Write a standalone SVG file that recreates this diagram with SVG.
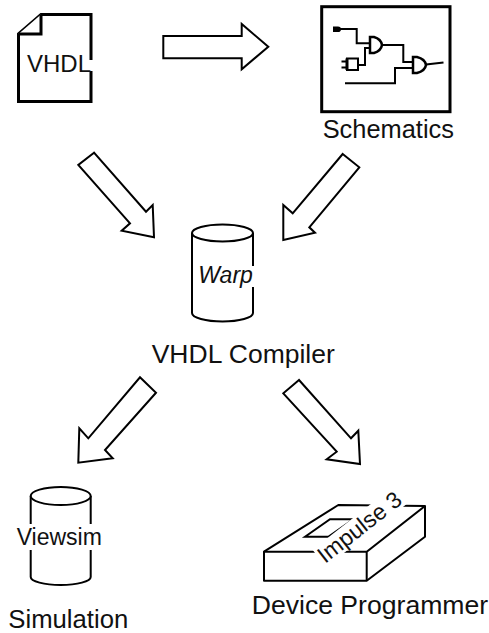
<svg xmlns="http://www.w3.org/2000/svg" width="489" height="633" viewBox="0 0 489 633">
  <style>
    .label { font-family: "Liberation Sans", Arial, sans-serif; fill: #111; }
    .inner { font-family: "Liberation Sans", Arial, sans-serif; fill: #111; }
    .thick { fill: #fff; stroke: #000; stroke-width: 3; stroke-linejoin: miter; }
    .shape { fill: #fff; stroke: #000; stroke-width: 2; stroke-linejoin: round; }
    .arrow { fill: #fff; stroke: #000; stroke-width: 2; stroke-linejoin: miter; }
    .wire { fill: none; stroke: #000; stroke-width: 2; stroke-linejoin: miter; }
    .bg { fill: #fff; stroke: none; }
  </style>

  <rect width="489" height="633" fill="#fff"/>

  <!-- VHDL source document -->
  <g id="vhdl-source">
    <path class="thick" d="M18.5,34 L41,14.5 L91,14.5 L91,101.5 L18.5,101.5 Z"/>
    <path class="thick" fill="none" d="M41,14.5 L41,34 L18.5,34"/>
    <rect class="bg" x="26" y="60" width="68" height="11"/>
    <text class="inner" x="27" y="71.5" font-size="24">VHDL</text>
  </g>

  <!-- Schematic entry -->
  <g id="schematics">
    <rect class="thick" x="321.7" y="6.7" width="128.3" height="105"/>
    <!-- input terminal -->
    <path d="M333,26.5 h5 a3,2.8 0 0 1 0,5.6 h-5 z" fill="#000"/>
    <path class="wire" d="M340,29 L356.7,29 L356.7,43.3 L370,43.3"/>
    <!-- input buffer box -->
    <rect x="347" y="58.5" width="11" height="11.5" fill="#fff" stroke="#000" stroke-width="2"/>
    <rect x="345.5" y="58.5" width="3" height="11.5" fill="#000"/>
    <path class="wire" d="M341.5,61.5 L346,61.5 M341.5,67.5 L346,67.5" stroke-width="2.5"/>
    <path class="wire" d="M358.3,65 L365,65 L365,48 L370,48"/>
    <!-- gate 1 -->
    <path d="M370,37 L374,37 Q381,39 382,45 Q381,51 374,53 L370,53 Z" fill="#fff" stroke="#000" stroke-width="2.5"/>
    <path class="wire" d="M382,45 L403.3,45 L403.3,62 L413,62"/>
    <!-- third input -->
    <path class="wire" d="M345,83.3 L395,83.3 L395,68 L413,68"/>
    <!-- gate 2 -->
    <path d="M413,57 L417,57 Q425,59 426,65 Q425,71 417,73 L413,73 Z" fill="#fff" stroke="#000" stroke-width="2.5"/>
    <path class="wire" d="M426,64.5 L443.5,62.5" stroke-width="1.5"/>
    <text class="label" x="322.7" y="138.3" font-size="25.4">Schematics</text>
  </g>

  <!-- Warp compiler -->
  <g id="warp-compiler">
    <path class="shape" d="M192,233 L192,313 A30.5,8.5 0 0 0 253,313 L253,233"/>
    <ellipse class="shape" cx="222.5" cy="233" rx="30.5" ry="8.5"/>
    <rect class="bg" x="197" y="266" width="59" height="21"/>
    <text class="inner" x="198.3" y="283.3" font-size="23" font-style="italic">Warp</text>
    <text class="label" x="151.7" y="362.7" font-size="26.5">VHDL Compiler</text>
  </g>

  <!-- Viewsim simulator -->
  <g id="viewsim">
    <path class="shape" d="M30.7,496 L30.7,577 A30,8 0 0 0 90.7,577 L90.7,496"/>
    <ellipse class="shape" cx="60.7" cy="496" rx="30" ry="9"/>
    <rect class="bg" x="15" y="524" width="90" height="26"/>
    <text class="inner" x="16.7" y="545" font-size="23">Viewsim</text>
    <text class="label" x="8.3" y="628" font-size="25.7">Simulation</text>
  </g>

  <!-- Impulse 3 device programmer -->
  <g id="impulse3">
    <path class="shape" d="M264,551.7 L338.3,505 L425,506 L425,536.7 L366.7,580.7 L264,580.7 Z" stroke-width="2.5" stroke-linejoin="miter"/>
    <path class="wire" d="M264,551.7 L366.7,551.7 L425,506 M366.7,551.7 L366.7,580.7" stroke-width="2.5"/>
    <path class="wire" d="M305,536.7 L330,519.3 L353.3,519.3 L328.3,536.7 Z" stroke-width="2.5"/>
    <g transform="translate(325,564) rotate(-38)">
      <rect class="bg" x="-1" y="-19" width="102" height="22"/>
      <text class="inner" x="0" y="0" font-size="23">Impulse 3</text>
    </g>
    <text class="label" x="251.7" y="614" font-size="26.6">Device Programmer</text>
  </g>

  <!-- Flow arrows -->
  <g id="connectors">
    <polygon class="arrow" points="163.3,36 241.7,36 241.7,24 268.3,46.7 241.7,69.3 241.7,58.3 163.3,58.3"/>
    <polygon class="arrow" points="94,152.7 78.3,165 130,223.3 121.7,230.7 154,237.3 152.7,205 146,211.7"/>
    <polygon class="arrow" points="342.7,154 359.3,167.3 309.3,227.3 315,232.7 283.3,240 283.3,205 292.7,213.3"/>
    <polygon class="arrow" points="140,377.3 156,392.7 105,450 112.7,458.3 78.3,462.7 79.3,428.3 88.3,438.3"/>
    <polygon class="arrow" points="299,380 283.3,393.3 336.7,451.7 326.7,459.3 360,464 358.3,430.7 351,438.3"/>
  </g>
</svg>
